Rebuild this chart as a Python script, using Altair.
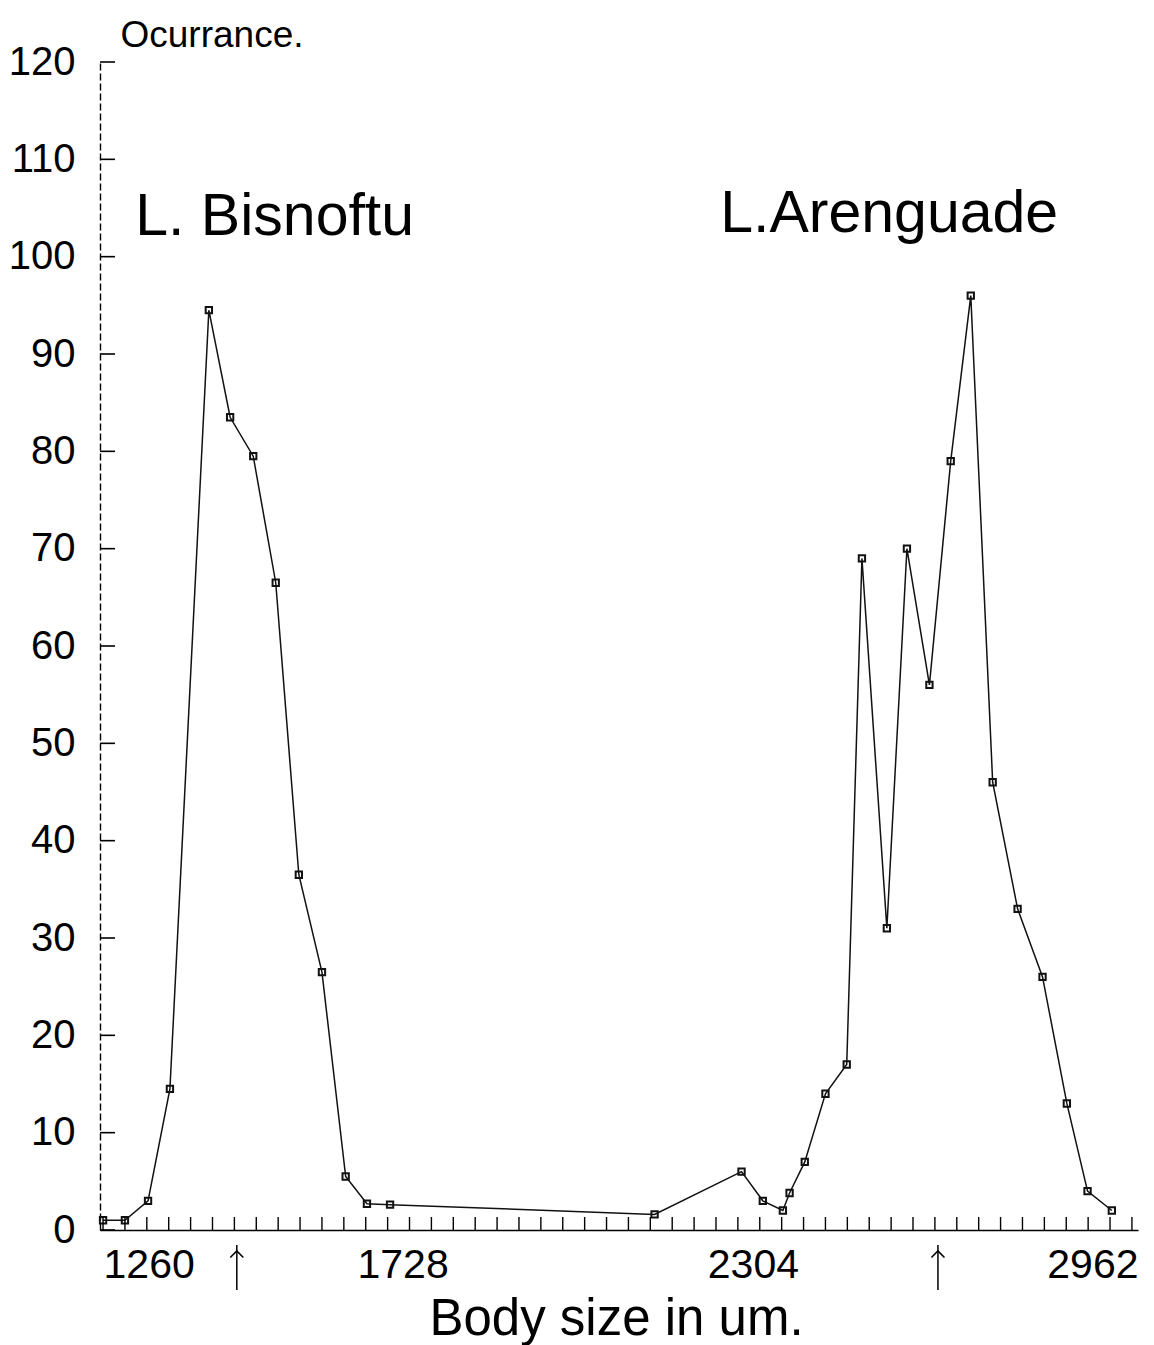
import altair as alt
import pandas as pd

# Frequency of body sizes (um) for the two species
sizes_um = [1260, 1296, 1334, 1370, 1434, 1469, 1507, 1544, 1582, 1620, 1659,
            1694, 1732, 2167, 2310, 2345, 2378, 2389, 2414, 2448, 2483, 2508,
            2549, 2582, 2619, 2654, 2687, 2723, 2764, 2805, 2845, 2879, 2919]
counts = [1, 1, 3, 14.5, 94.5, 83.5, 79.5, 66.5, 36.5, 26.5, 5.5,
          2.7, 2.6, 1.6, 6, 3, 2, 3.8, 7, 14, 17, 69,
          31, 70, 56, 79, 96, 46, 33, 26, 13, 4, 2]

x_labels = [1260, 1728, 2304, 2962]
y_ticks = [0, 10, 20, 30, 40, 50, 60, 70, 80, 90, 100, 110, 120]
bin_edges = [1260 + 36 * k for k in range(48)]   # 36 um size classes
arrow_at = [1480, 2633]

species = ["L. Bisnoftu", "L.Arenguade"]
species_x = [1313, 2275]
species_y = [102.2, 102.5]

W, H = 1038, 1168
FONT = "Liberation Sans"

x_scale = alt.Scale(domain=[1255, 2962], nice=False, zero=False)
y_scale = alt.Scale(domain=[0, 120], nice=False)

curve = pd.DataFrame({"size": sizes_um, "count": counts})
edges = pd.DataFrame({"size": bin_edges})
yt = pd.DataFrame({"count": y_ticks})
arrows = pd.DataFrame({"size": arrow_at})
names = pd.DataFrame({"size": species_x, "count": species_y, "name": species})

x_axis = alt.Axis(
    values=x_labels, format="d", ticks=False, grid=False,
    domainColor="black", domainWidth=1.6,
    labelFont=FONT, labelFontSize=41, labelColor="black", labelPadding=15,
    labelFlush=10,
    labelOffset={"condition": {"test": "datum.value == 1728 || datum.value == 2304",
                               "value": 15}, "value": 0},
    title="Body size in um.", titleFont=FONT, titleFontSize=51,
    titleFontWeight="normal", titleColor="black",
    titleBaseline="alphabetic", titleAlign="center", titleX=516, titleY=104,
)
y_axis = alt.Axis(
    values=y_ticks, format="d", ticks=False, grid=False,
    domainColor="black", domainWidth=1.4, domainDash=[7, 3],
    labelFont=FONT, labelFontSize=40, labelColor="black", labelPadding=25,
    title="Ocurrance.", titleFont=FONT, titleFontSize=37,
    titleFontWeight="normal", titleColor="black", titleAngle=0,
    titleAlign="left", titleBaseline="alphabetic", titleX=20, titleY=-16,
)

line = alt.Chart(curve).mark_line(color="#111", strokeWidth=1.5).encode(
    x=alt.X("size:Q", scale=x_scale, axis=x_axis),
    y=alt.Y("count:Q", scale=y_scale, axis=y_axis),
)
points = alt.Chart(curve).mark_point(
    shape="square", filled=False, size=40, strokeWidth=2, color="#111", opacity=1
).encode(x=alt.X("size:Q", scale=x_scale), y=alt.Y("count:Q", scale=y_scale))

x_ticks = alt.Chart(edges).mark_rule(color="black", strokeWidth=1.4).encode(
    x=alt.X("size:Q", scale=x_scale), y=alt.value(H), y2=alt.value(H - 13)
)
y_tick_marks = alt.Chart(yt).mark_rule(color="black", strokeWidth=1.6).encode(
    y=alt.Y("count:Q", scale=y_scale), x=alt.value(0), x2=alt.value(15)
)

arrow_shaft = alt.Chart(arrows).mark_rule(color="black", strokeWidth=1.5).encode(
    x=alt.X("size:Q", scale=x_scale), y=alt.value(H + 15), y2=alt.value(H + 60)
)
arrow_head = alt.Chart(arrows).mark_point(
    shape="M-1,1L0,0L1,1", filled=False, size=170, strokeWidth=1.6,
    color="black", opacity=1
).encode(x=alt.X("size:Q", scale=x_scale), y=alt.value(H + 21))

labels = alt.Chart(names).mark_text(
    font=FONT, fontSize=59, align="left", baseline="alphabetic", color="black"
).encode(
    x=alt.X("size:Q", scale=x_scale), y=alt.Y("count:Q", scale=y_scale),
    text="name:N",
)

chart = alt.layer(
    line, points, x_ticks, y_tick_marks, arrow_shaft, arrow_head, labels
).properties(
    width=W, height=H,
    background="white",
    autosize=alt.AutoSizeParams(type="none"),
    padding={"left": 100, "top": 62, "right": 16, "bottom": 115},
).configure_view(stroke=None, strokeWidth=0)

chart.save("out.html", embed_options={"renderer": "svg", "actions": False})
